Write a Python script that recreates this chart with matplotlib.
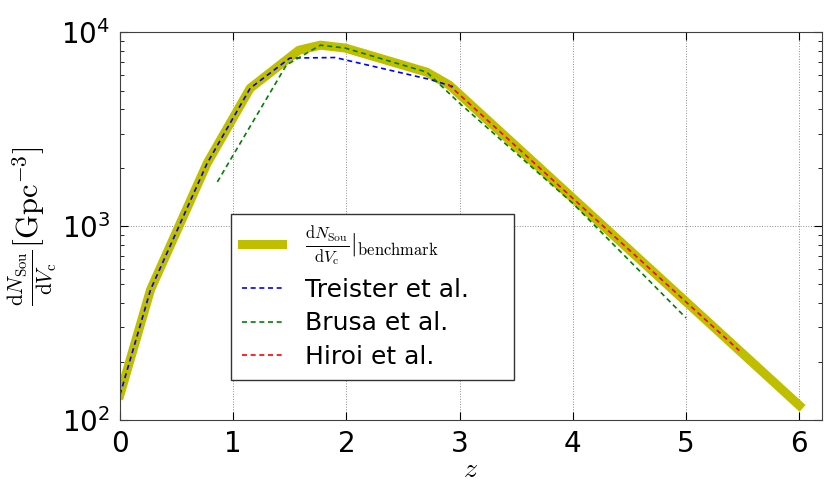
import matplotlib
matplotlib.use('Agg')
from matplotlib import pyplot as plt

# benchmark source density vs redshift
z_bench = [0.0, 0.27, 0.77, 1.15, 1.58, 1.77, 1.99, 2.71, 2.91, 6.0]
n_bench = [135, 470, 2110, 5140, 8070, 8570, 8280, 6220, 5330, 119]

z_treister = [0.0, 0.27, 0.77, 1.15, 1.50, 1.90, 2.74, 2.96]
n_treister = [135, 470, 2110, 5140, 7350, 7400, 5700, 5200]

z_brusa = [0.86, 1.47, 1.77, 1.99, 2.71, 3.0, 4.0, 5.0]
n_brusa = [1690, 6770, 8570, 8280, 6220, 4300, 1310, 336]

z_hiroi = [2.9, 5.47]
n_hiroi = [5380, 228]

COLOR_BENCH = (0.75, 0.75, 0.0)
DASHES = (3, 2.2)

def main():
    fig = plt.figure(figsize=(8.31, 4.86), dpi=100)
    ax = fig.add_axes([0.1444, 0.1358, 0.8446, 0.798])

    ax.plot(z_bench, n_bench, color=COLOR_BENCH, lw=6.5,
            label=r'$\frac{\mathrm{d}N_\mathrm{Sou}}{\mathrm{d}V_\mathrm{c}}|_\mathrm{benchmark}$')
    ax.plot(z_treister, n_treister, color='b', lw=1.2, ls='--', dashes=DASHES,
            label='Treister et al.')
    ax.plot(z_brusa, n_brusa, color='g', lw=1.2, ls='--', dashes=DASHES,
            label='Brusa et al.')
    ax.plot(z_hiroi, n_hiroi, color='r', lw=1.2, ls='--', dashes=DASHES,
            label='Hiroi et al.')

    ax.set_yscale('log')
    ax.set_xlim(0, 6.2)
    ax.set_ylim(100, 10000)
    ax.set_xticks([0, 1, 2, 3, 4, 5, 6])

    ax.grid(True, which='major', ls=':', color='0.55', lw=0.7)
    ax.tick_params(which='both', direction='in', top=True, right=True,
                   labelsize=20)
    ax.tick_params(which='major', length=6, pad=7)
    ax.tick_params(which='minor', length=3)
    for sp in ax.spines.values():
        sp.set_color('0.25')

    ax.set_xlabel(r'$z$', fontsize=20, math_fontfamily='cm', labelpad=-2)
    ax.set_ylabel(r'$\frac{\mathrm{d}N_\mathrm{Sou}}{\mathrm{d}V_\mathrm{c}}\left[\mathrm{Gpc}^{-3}\right]$',
                  fontsize=22, math_fontfamily='cm', labelpad=2)

    leg = ax.legend(loc='lower left', bbox_to_anchor=(0.158, 0.103, 0.403, 0.425),
                    mode='expand', fontsize=18, fancybox=False, framealpha=1,
                    edgecolor='0.2', handlelength=1.6, handletextpad=0.9,
                    borderpad=0.45, labelspacing=0.38, borderaxespad=0)
    leg.get_frame().set_linewidth(1.0)
    leg.get_texts()[0].set_math_fontfamily('cm')
    leg.get_texts()[0].set_fontsize(17)

    fig.savefig('out.png', dpi=100)

if __name__ == '__main__':
    main()
